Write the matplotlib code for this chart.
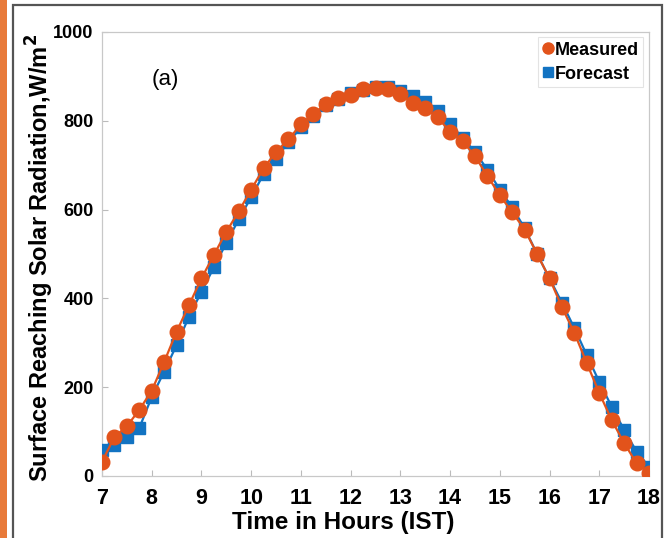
import matplotlib
matplotlib.use("Agg")
import matplotlib.pyplot as plt
from matplotlib.patches import Rectangle
from matplotlib.lines import Line2D

plt.rcParams['font.family'] = ['Liberation Sans', 'DejaVu Sans']

hours = [7 + 0.25 * i for i in range(45)]
measured = [32, 88, 112, 149, 192, 257, 325, 385, 445, 498, 550, 596, 645, 693,
            730, 758, 792, 815, 838, 852, 858, 872, 875, 872, 860, 840, 828, 808,
            775, 755, 720, 676, 632, 594, 555, 500, 445, 380, 322, 254, 187, 126,
            74, 29, 7]
forecast = [58, 70, 88, 108, 178, 235, 295, 359, 415, 470, 525, 578, 628, 680,
            715, 752, 785, 810, 835, 850, 862, 870, 876, 876, 868, 855, 842, 822,
            792, 762, 730, 690, 645, 605, 558, 500, 445, 390, 333, 272, 212, 156,
            104, 55, 21]
xticks = list(range(7, 19))
yticks = [0, 200, 400, 600, 800, 1000]

orange = '#E2531B'
blue = '#1273C2'

fig = plt.figure(figsize=(6.66, 5.38), dpi=100)
fig.patch.set_facecolor('white')
# decorative frame
fig.patches.append(Rectangle((0, 0), 7 / 666, 1, transform=fig.transFigure,
                             facecolor='#E87A3A', edgecolor='none', zorder=0))
fig.patches.append(Rectangle((12.5 / 666, -0.05), (662 - 12.5) / 666, 1.05 - 5 / 538,
                             transform=fig.transFigure, facecolor='none',
                             edgecolor='#555555', linewidth=1.6, zorder=0))

ax = fig.add_axes([102 / 666, 62 / 538, 547 / 666, 444 / 538])
ax.plot(hours, forecast, color=blue, marker='s', markersize=9, linewidth=1.6,
        markeredgecolor=blue, label='Forecast', zorder=3)
ax.plot(hours, measured, color=orange, marker='o', markersize=10.5, linewidth=1.6,
        markeredgecolor=orange, label='Measured', zorder=4)

ax.set_xlim(7, 18)
ax.set_ylim(0, 1000)
ax.set_xticks(xticks)
ax.set_yticks(yticks)
ax.set_xticklabels([str(t) for t in xticks], fontsize=15.5, fontweight='bold')
ax.set_yticklabels([str(t) for t in yticks], fontsize=13, fontweight='bold')
ax.tick_params(direction='in', length=4, color='#BBBBBB')
ax.tick_params(axis='x', pad=9)
ax.tick_params(axis='y', pad=6)
for s in ax.spines.values():
    s.set_color('#C8C8C8')
    s.set_linewidth(0.9)

ax.set_xlabel('Time in Hours (IST)', fontsize=17.5, fontweight='bold', va='center')
ax.xaxis.set_label_coords((343 - 102) / 547, (476 - 523) / 444)
ax.set_ylabel('Surface Reaching Solar Radiation,W/m$^\\mathbf{2}$', fontsize=17,
              fontweight='bold', va='center')
ax.yaxis.set_label_coords((40 - 102) / 547, 0.49)
ax.text(8.28, 893, '(a)', fontsize=16, ha='center', va='center')

handles = [Line2D([], [], color=orange, marker='o', markersize=8, linestyle='none'),
           Line2D([], [], color=blue, marker='s', markersize=7, linestyle='none')]
leg = ax.legend(handles, ['Measured', 'Forecast'], loc='upper right',
                bbox_to_anchor=(643 / 547 - 102 / 547, (476 - 37) / 444),
                prop={'weight': 'bold', 'size': 13}, handletextpad=0.05,
                handlelength=0.6, borderpad=0.25, labelspacing=0.4,
                frameon=True, fancybox=False, borderaxespad=0.0)
leg.get_frame().set_edgecolor('#DDDDDD')
leg.get_frame().set_linewidth(0.8)

fig.savefig('out.png', dpi=100)
